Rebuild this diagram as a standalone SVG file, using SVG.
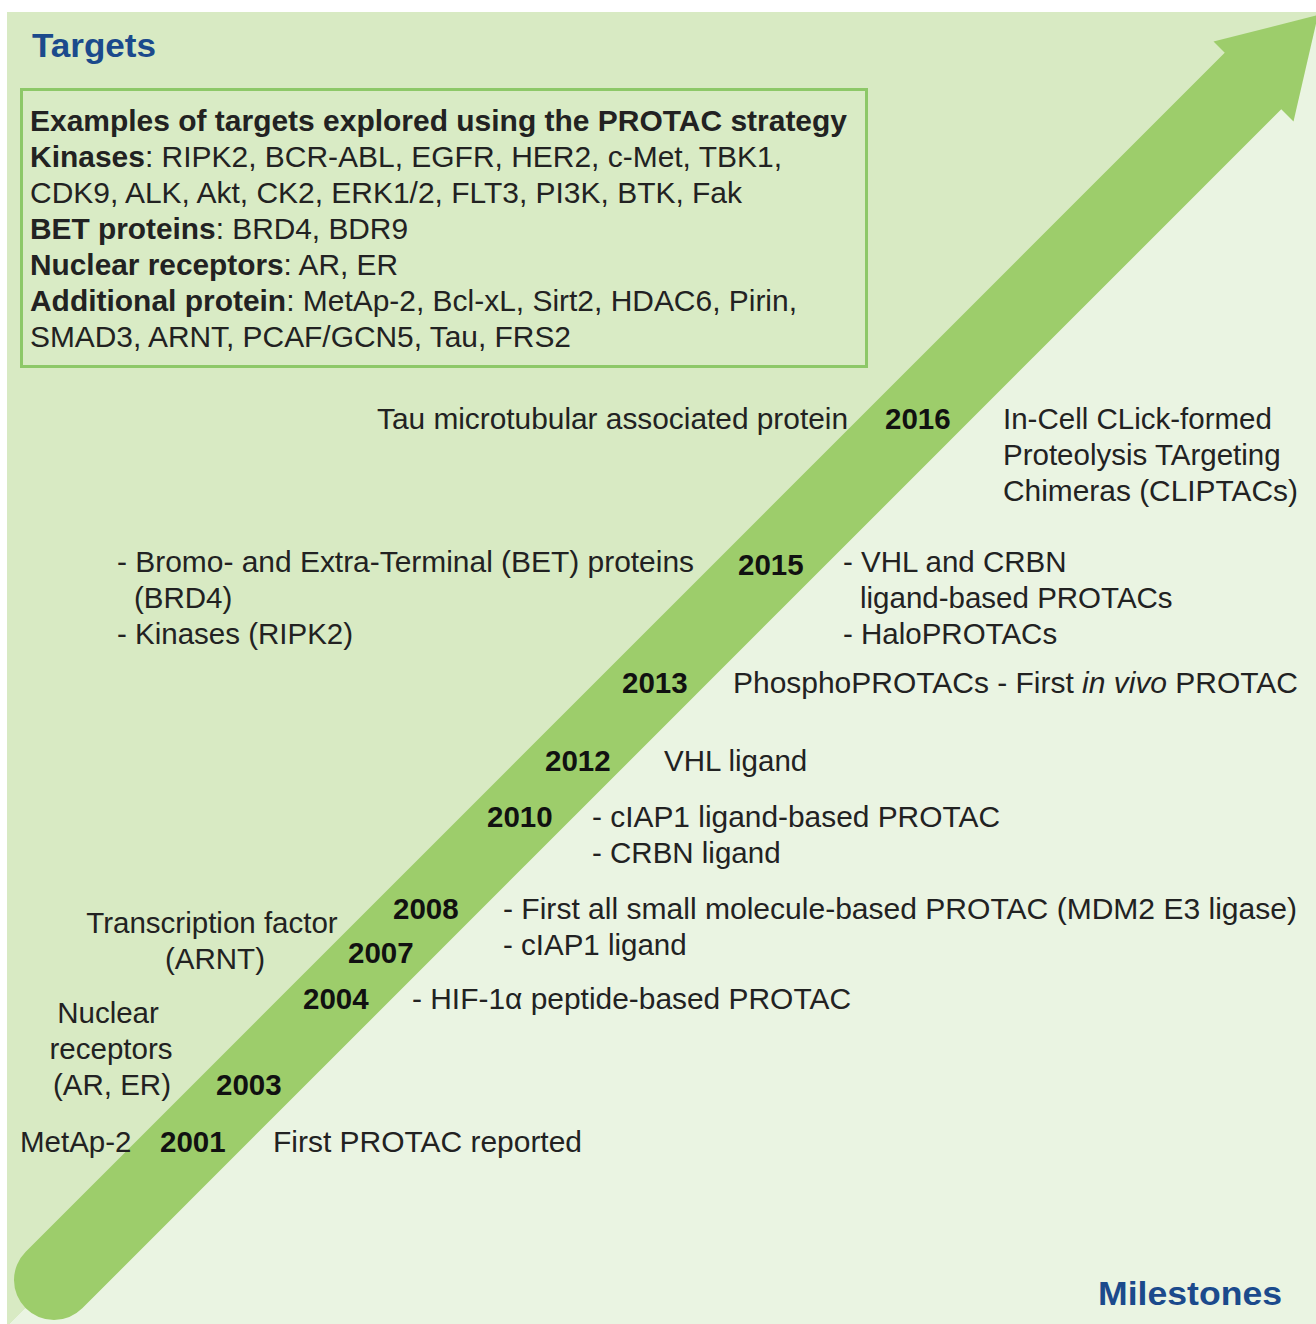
<svg xmlns="http://www.w3.org/2000/svg" width="1316" height="1324" viewBox="0 0 1316 1324">
<style>
text{font-family:"Liberation Sans",Arial,sans-serif;font-size:29.5px;fill:#222}
.b{font-weight:bold}
.yr{font-weight:bold;fill:#111}
.ttl{font-weight:bold;font-size:34px;fill:#1b4a8c}
.m{text-anchor:middle}
.e{text-anchor:end}
</style>
<rect x="0" y="0" width="1316" height="1324" fill="#ffffff"/>
<g id="background">
<polygon points="7,12 1316,12 1316,18 10,1324 7,1324" fill="#d8eac3"/>
<polygon points="1316,18 1316,1324 10,1324" fill="#eaf4e2"/>
</g>
<g id="connectors">
<line x1="54" y1="1280" x2="1254" y2="80" stroke="#9dcd6b" stroke-width="80" stroke-linecap="round"/>
<polygon points="1318,15 1293.5,121.5 1213.5,41.5" fill="#9dcd6b"/>
</g>
<g id="title-targets"><text class="ttl" x="32" y="57" textLength="124" lengthAdjust="spacingAndGlyphs">Targets</text></g>
<g id="title-milestones"><text class="ttl" x="1098" y="1305" textLength="184" lengthAdjust="spacingAndGlyphs">Milestones</text></g>
<g id="targets-box">
<rect x="21.5" y="89.5" width="845" height="277" fill="#d9ebc5" stroke="#8dc868" stroke-width="3"/>
<text x="30" y="131" class="b" textLength="817" lengthAdjust="spacingAndGlyphs">Examples of targets explored using the PROTAC strategy</text>
<text x="30" y="167" textLength="752" lengthAdjust="spacingAndGlyphs"><tspan class="b">Kinases</tspan>: RIPK2, BCR-ABL, EGFR, HER2, c-Met, TBK1,</text>
<text x="30" y="203" textLength="712" lengthAdjust="spacingAndGlyphs">CDK9, ALK, Akt, CK2, ERK1/2, FLT3, PI3K, BTK, Fak</text>
<text x="30" y="239" textLength="378" lengthAdjust="spacingAndGlyphs"><tspan class="b">BET proteins</tspan>: BRD4, BDR9</text>
<text x="30" y="275" textLength="368" lengthAdjust="spacingAndGlyphs"><tspan class="b">Nuclear receptors</tspan>: AR, ER</text>
<text x="30" y="311" textLength="767" lengthAdjust="spacingAndGlyphs"><tspan class="b">Additional protein</tspan>: MetAp-2, Bcl-xL, Sirt2, HDAC6, Pirin,</text>
<text x="30" y="347" textLength="541" lengthAdjust="spacingAndGlyphs">SMAD3, ARNT, PCAF/GCN5, Tau, FRS2</text>
</g>
<g id="y2016">
<text x="377" y="429" textLength="471" lengthAdjust="spacingAndGlyphs">Tau microtubular associated protein</text>
<text class="yr" x="885" y="429">2016</text>
<text x="1003" y="429">In-Cell CLick-formed</text>
<text x="1003" y="465">Proteolysis TArgeting</text>
<text x="1003" y="501" textLength="295" lengthAdjust="spacingAndGlyphs">Chimeras (CLIPTACs)</text>
</g>
<g id="y2015">
<text x="117" y="572" textLength="577" lengthAdjust="spacingAndGlyphs">- Bromo- and Extra-Terminal (BET) proteins</text>
<text x="134" y="608">(BRD4)</text>
<text x="117" y="644">- Kinases (RIPK2)</text>
<text class="yr" x="738" y="575">2015</text>
<text x="843" y="572">- VHL and CRBN</text>
<text x="860" y="608">ligand-based PROTACs</text>
<text x="843" y="644">- HaloPROTACs</text>
</g>
<g id="y2013">
<text class="yr" x="622" y="693">2013</text>
<text x="733" y="693" textLength="565" lengthAdjust="spacingAndGlyphs">PhosphoPROTACs - First <tspan font-style="italic">in vivo</tspan> PROTAC</text>
</g>
<g id="y2012">
<text class="yr" x="545" y="771">2012</text>
<text x="664" y="771">VHL ligand</text>
</g>
<g id="y2010">
<text class="yr" x="487" y="827">2010</text>
<text x="592" y="827" textLength="408" lengthAdjust="spacingAndGlyphs">- cIAP1 ligand-based PROTAC</text>
<text x="592" y="863">- CRBN ligand</text>
</g>
<g id="y2008">
<text class="yr" x="393" y="919">2008</text>
<text x="503" y="919" textLength="794" lengthAdjust="spacingAndGlyphs">- First all small molecule-based PROTAC (MDM2 E3 ligase)</text>
<text x="503" y="955">- cIAP1 ligand</text>
</g>
<g id="y2007">
<text class="m" x="212" y="933">Transcription factor</text>
<text class="m" x="215" y="969">(ARNT)</text>
<text class="yr" x="348" y="963">2007</text>
</g>
<g id="y2004">
<text class="yr" x="303" y="1009">2004</text>
<text x="412" y="1009" textLength="439" lengthAdjust="spacingAndGlyphs">- HIF-1α peptide-based PROTAC</text>
</g>
<g id="y2003">
<text class="m" x="108" y="1023">Nuclear</text>
<text class="m" x="111" y="1059">receptors</text>
<text class="m" x="112" y="1095">(AR, ER)</text>
<text class="yr" x="216" y="1095">2003</text>
</g>
<g id="y2001">
<text x="20" y="1152">MetAp-2</text>
<text class="yr" x="160" y="1152">2001</text>
<text x="273" y="1152" textLength="309" lengthAdjust="spacingAndGlyphs">First PROTAC reported</text>
</g>
</svg>
